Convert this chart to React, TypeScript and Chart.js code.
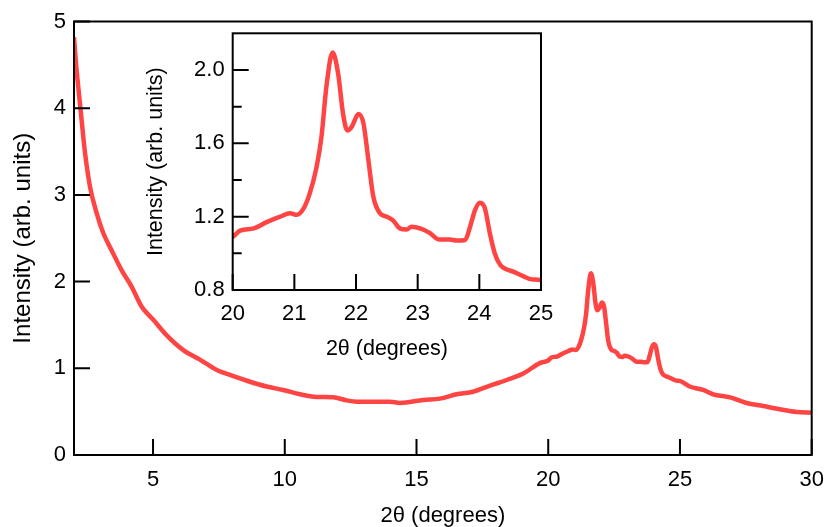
import React, { useEffect, useRef } from 'react';
import { Chart, registerables } from 'chart.js';

Chart.register(...registerables);

// 2θ (degrees)
const theta = [
  2.0, 2.08, 2.16, 2.29, 2.42, 2.61, 2.86, 3.11, 3.43, 3.81, 4.19, 4.57, 5.01, 5.52, 6.15, 6.78,
  7.42, 8.05, 8.68, 9.31, 9.94, 10.58, 11.21, 11.84, 12.35, 12.73, 13.36, 13.99, 14.37, 15.26,
  15.89, 16.52, 17.15, 17.79, 18.42, 19.05, 19.68,
  20.0, 20.12, 20.34, 20.55, 20.77, 20.93, 21.04, 21.15, 21.25, 21.36, 21.44, 21.52, 21.62,
  21.71, 21.79, 21.86, 21.93, 22.04, 22.12, 22.2, 22.28, 22.39, 22.5, 22.6, 22.71, 22.82,
  22.9, 23.04, 23.2, 23.34, 23.52, 23.63, 23.77, 23.85, 23.93, 24.01, 24.09, 24.17, 24.25,
  24.34, 24.44, 24.55, 24.71, 24.85, 24.98,
  25.37, 25.88, 26.26, 26.9, 27.53, 28.16, 28.79, 29.43, 30.0,
];

// Intensity (arb. units)
const intensity = [
  4.82, 4.5, 4.25, 3.86, 3.48, 3.09, 2.79, 2.56, 2.36, 2.13, 1.94, 1.71, 1.56, 1.38, 1.21, 1.1,
  0.98, 0.91, 0.845, 0.79, 0.75, 0.7, 0.67, 0.665, 0.63, 0.615, 0.615, 0.615, 0.6, 0.635,
  0.65, 0.7, 0.73, 0.8, 0.865, 0.94, 1.06,
  1.09, 1.124, 1.136, 1.17, 1.2, 1.218, 1.21, 1.245, 1.327, 1.47, 1.636, 1.91, 2.095,
  1.98, 1.76, 1.67, 1.69, 1.76, 1.71, 1.51, 1.31, 1.218, 1.2, 1.18, 1.136, 1.13,
  1.145, 1.136, 1.11, 1.076, 1.076, 1.07, 1.073, 1.145, 1.236, 1.276, 1.245, 1.11, 1.0,
  0.936, 0.913, 0.9, 0.876, 0.858, 0.855,
  0.79, 0.75, 0.7, 0.665, 0.6, 0.565, 0.527, 0.496, 0.488,
];

const mainXTicks = [5, 10, 15, 20, 25, 30];
const mainYTicks = [0, 1, 2, 3, 4, 5];
const insetXTicks = [20, 21, 22, 23, 24, 25];
const insetYTicks = [0.8, 1.2, 1.6, 2.0];
const insetYMinorTicks = [1.0, 1.4, 1.8];

const xTitle = '2θ (degrees)';
const yTitle = 'Intensity (arb. units)';

const FONT = '"Liberation Sans", Arial, Helvetica, sans-serif';
const LINE_COLOR = 'rgb(255, 68, 68)';

function framePlugin(xMajor: number[], yMajor: number[], yMinor: number[], majorLen: number, minorLen: number) {
  return {
    id: 'frameTicks',
    afterDraw(chart: any) {
      const { ctx, chartArea: a, scales } = chart;
      const xs = scales.x;
      const ys = scales.y;
      ctx.save();
      ctx.strokeStyle = '#000';
      ctx.lineWidth = 2;
      ctx.beginPath();
      xMajor.forEach((v) => {
        const px = xs.getPixelForValue(v);
        ctx.moveTo(px, a.bottom);
        ctx.lineTo(px, a.bottom - majorLen);
      });
      yMajor.forEach((v) => {
        const py = ys.getPixelForValue(v);
        ctx.moveTo(a.left, py);
        ctx.lineTo(a.left + majorLen, py);
      });
      yMinor.forEach((v) => {
        const py = ys.getPixelForValue(v);
        ctx.moveTo(a.left, py);
        ctx.lineTo(a.left + minorLen, py);
      });
      ctx.stroke();
      ctx.strokeRect(a.left, a.top, a.right - a.left, a.bottom - a.top);
      ctx.restore();
    },
  };
}

function datasetOf() {
  return {
    data: theta.map((t, i) => ({ x: t, y: intensity[i] })),
    showLine: true,
    borderColor: LINE_COLOR,
    backgroundColor: LINE_COLOR,
    borderWidth: 4.5,
    pointRadius: 0,
    cubicInterpolationMode: 'monotone' as const,
    fill: false,
  };
}

function xScale(min: number, max: number, ticks: number[], height: number, tickPad: number, titleSize: number, titleBottom: number, fmt: (v: number) => string) {
  return {
    type: 'linear',
    min,
    max,
    grid: { display: false, drawTicks: false },
    border: { display: false },
    afterBuildTicks: (s: any) => {
      s.ticks = ticks.map((v) => ({ value: v }));
    },
    afterFit: (s: any) => {
      s.height = height;
      s.paddingLeft = 0;
      s.paddingRight = 0;
    },
    ticks: {
      padding: tickPad,
      color: '#000',
      font: { family: FONT, size: 22 },
      maxRotation: 0,
      autoSkip: false,
      callback: (v: any) => fmt(Number(v)),
    },
    title: {
      display: true,
      text: xTitle,
      color: '#000',
      font: { family: FONT, size: titleSize, lineHeight: 1 },
      padding: { top: 0, bottom: titleBottom },
    },
  };
}

function yScale(min: number, max: number, ticks: number[], width: number, tickPad: number, titleSize: number, titleTop: number, fmt: (v: number) => string) {
  return {
    type: 'linear',
    min,
    max,
    grid: { display: false, drawTicks: false },
    border: { display: false },
    afterBuildTicks: (s: any) => {
      s.ticks = ticks.map((v) => ({ value: v }));
    },
    afterFit: (s: any) => {
      s.width = width;
      s.paddingTop = 0;
      s.paddingBottom = 0;
    },
    ticks: {
      padding: tickPad,
      color: '#000',
      font: { family: FONT, size: 22 },
      autoSkip: false,
      callback: (v: any) => fmt(Number(v)),
    },
    title: {
      display: true,
      text: yTitle,
      color: '#000',
      font: { family: FONT, size: titleSize, lineHeight: 1 },
      padding: { top: titleTop, bottom: 0 },
    },
  };
}

export default function App() {
  const mainRef = useRef<HTMLCanvasElement>(null);
  const insetRef = useRef<HTMLCanvasElement>(null);

  useEffect(() => {
    if (!mainRef.current || !insetRef.current) return;

    const main = new Chart(mainRef.current, {
      type: 'scatter',
      data: { datasets: [datasetOf()] },
      plugins: [framePlugin(mainXTicks, mainYTicks, [], 16, 0)],
      options: {
        animation: false,
        responsive: false,
        devicePixelRatio: 1,
        events: [],
        layout: { padding: { top: 21.5, right: 14.3, left: 0, bottom: 0 } },
        plugins: { legend: { display: false }, tooltip: { enabled: false } },
        scales: {
          x: xScale(2, 30, mainXTicks, 72, 11.8, 22, 0, (v) => String(v)),
          y: yScale(0, 5, mainYTicks, 74, 8, 24, 11, (v) => String(v)),
        },
      },
    } as any);

    const inset = new Chart(insetRef.current, {
      type: 'scatter',
      data: { datasets: [datasetOf()] },
      plugins: [framePlugin(insetXTicks, insetYTicks, insetYMinorTicks, 16, 9)],
      options: {
        animation: false,
        responsive: false,
        devicePixelRatio: 1,
        events: [],
        layout: { padding: { top: 13.3, right: 19, left: 0, bottom: 0 } },
        plugins: { legend: { display: false }, tooltip: { enabled: false } },
        scales: {
          x: xScale(20, 25, insetXTicks, 75, 10.8, 21.5, 5.2, (v) => String(v)),
          y: yScale(0.8, 2.2, insetYTicks, 92.7, 8, 21.5, 5.5, (v) => v.toFixed(1)),
        },
      },
    } as any);

    return () => {
      main.destroy();
      inset.destroy();
    };
  }, []);

  return (
    <div style={{ position: 'fixed', left: 0, top: 0, width: 826, height: 527, background: '#fff' }}>
      <canvas
        ref={mainRef}
        width={826}
        height={527}
        style={{ position: 'absolute', left: 0, top: 0, width: 826, height: 527 }}
      />
      <canvas
        ref={insetRef}
        width={420}
        height={345}
        style={{ position: 'absolute', left: 140, top: 20, width: 420, height: 345 }}
      />
    </div>
  );
}
